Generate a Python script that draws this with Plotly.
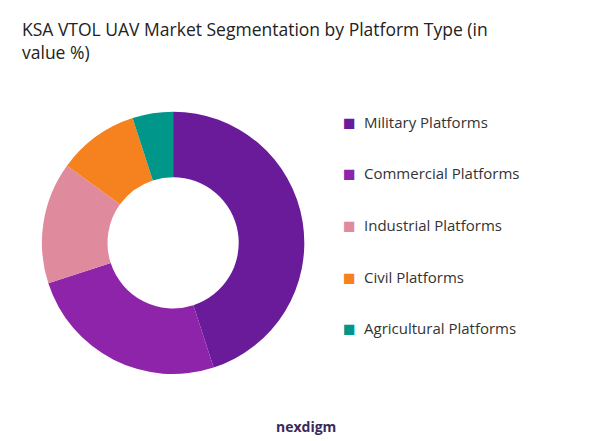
import plotly.graph_objects as go

labels = ["Military Platforms", "Commercial Platforms", "Industrial Platforms",
          "Civil Platforms", "Agricultural Platforms"]
values = [45, 25, 15, 10, 5]
colors = ["#6a1b9a", "#8e24aa", "#e08a9e", "#f5821f", "#00968a"]

fig = go.Figure()
fig.add_trace(go.Pie(labels=labels, values=values, hole=0.5, sort=False,
                     direction="clockwise", rotation=0, showlegend=False,
                     marker=dict(colors=colors), textinfo="none",
                     domain=dict(x=[0.055, 0.50], y=[0.17, 0.765])))

fig.update_layout(
    width=595, height=441,
    font=dict(family="Open Sans, sans-serif", color="#333"),
    margin=dict(l=0, r=0, t=0, b=0),
    paper_bgcolor="white",
)

# custom legend with wider row spacing
for i, (lab, col) in enumerate(zip(labels, colors)):
    y = 1 - (114 + 51.5 * i) / 441
    fig.add_annotation(text="■", x=341 / 595, y=y, xref="paper", yref="paper",
                       showarrow=False, xanchor="center", yanchor="middle",
                       font=dict(size=21, color=col))
    fig.add_annotation(text=lab, x=354 / 595, y=y, xref="paper", yref="paper",
                       showarrow=False, xanchor="left", yanchor="middle",
                       font=dict(size=15, color="#333"))

fig.add_annotation(text="KSA VTOL UAV Market Segmentation by Platform Type (in<br>value %)",
                   x=0.02, y=0.985, xref="paper", yref="paper", xanchor="left",
                   yanchor="top", align="left", showarrow=False,
                   font=dict(size=17.5, color="#222"))
fig.add_annotation(text="<b>nexdigm</b>", x=0.5, y=0.025, xref="paper", yref="paper",
                   showarrow=False, font=dict(size=14, color="#3a2a5a"))
fig.write_html("out.html")
